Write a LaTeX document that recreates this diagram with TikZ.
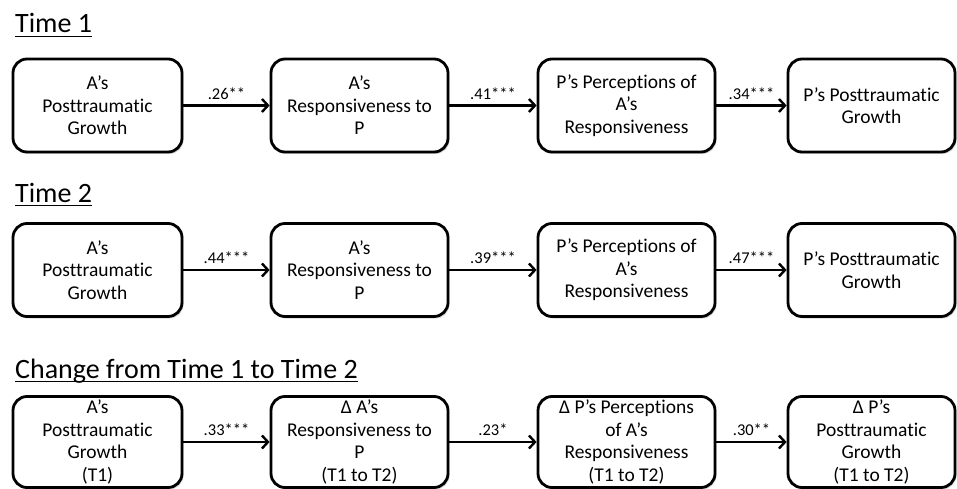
\documentclass[tikz,border=0pt]{standalone}
\usepackage{fontspec}
\setmainfont[Ligatures={NoCommon}]{Carlito}
\usetikzlibrary{arrows.meta,shadows}
\begin{document}
\begin{tikzpicture}[x=1pt,y=-1pt,
  box/.style={draw=black, line width=2.8pt, rounded corners=14pt, fill=white,
    align=center, inner sep=0pt, minimum height=93pt,
    font=\fontsize{19.5}{22.5}\selectfont,
    drop shadow={shadow xshift=1.5pt, shadow yshift=-2pt, opacity=0.3}},
  wA/.style={minimum width=169pt},
  wB/.style={minimum width=177pt},
  wD/.style={minimum width=167pt},
  conn/.style={line width=2.4pt, -{Straight Barb[length=6pt,width=13pt]}},
  lab/.style={midway, above=5pt, inner sep=0pt, font=\fontsize{16.5}{20}\selectfont},
  ttl/.style={anchor=base west, inner sep=0pt, font=\fontsize{28}{34}\selectfont},
  uline/.style={line width=1.6pt}]
\useasboundingbox (0,0) rectangle (957,489);

% Titles
\node[ttl] (t1) at (15,33) {Time 1};
\node[ttl] (t2) at (15,202) {Time 2};
\node[ttl] (t3) at (15,378) {Change from Time 1 to Time 2};
\foreach \t in {t1,t2,t3}
  \draw[uline] ([yshift=-3.5pt]\t.base west) -- ([yshift=-3.5pt]\t.base east);

% Row 1
\node[box,wA] (a1) at (97.5,105.5) {A’s\\Posttraumatic\\Growth};
\node[box,wB] (b1) at (359.5,105.5) {A’s\\Responsiveness to\\P};
\node[box,wB] (c1) at (626.5,105.5) {P’s Perceptions of\\A’s\\Responsiveness};
\node[box,wD] (d1) at (871.5,105.5) {P’s Posttraumatic\\Growth};
\draw[conn] (a1) -- node[lab] {.26**} (b1);
\draw[conn] (b1) -- node[lab] {.41***} (c1);
\draw[conn] (c1) -- node[lab] {.34***} (d1);

% Row 2
\node[box,wA] (a2) at (97.5,270) {A’s\\Posttraumatic\\Growth};
\node[box,wB] (b2) at (359.5,270) {A’s\\Responsiveness to\\P};
\node[box,wB] (c2) at (626.5,270) {P’s Perceptions of\\A’s\\Responsiveness};
\node[box,wD] (d2) at (871.5,270) {P’s Posttraumatic\\Growth};
\draw[conn] (a2) -- node[lab] {.44***} (b2);
\draw[conn] (b2) -- node[lab] {.39***} (c2);
\draw[conn] (c2) -- node[lab] {.47***} (d2);

% Row 3
\node[box,wA,minimum height=91pt] (a3) at (97.5,442) {A’s\\Posttraumatic\\Growth\\(T1)};
\node[box,wB,minimum height=91pt] (b3) at (359.5,442) {Δ A’s\\Responsiveness to\\P\\(T1 to T2)};
\node[box,wB,minimum height=91pt] (c3) at (626.5,442) {Δ P’s Perceptions\\of A’s\\Responsiveness\\(T1 to T2)};
\node[box,wD,minimum height=91pt] (d3) at (871.5,442) {Δ P’s\\Posttraumatic\\Growth\\(T1 to T2)};
\draw[conn] (a3) -- node[lab] {.33***} (b3);
\draw[conn] (b3) -- node[lab] {.23*} (c3);
\draw[conn] (c3) -- node[lab] {.30**} (d3);
\end{tikzpicture}
\end{document}
